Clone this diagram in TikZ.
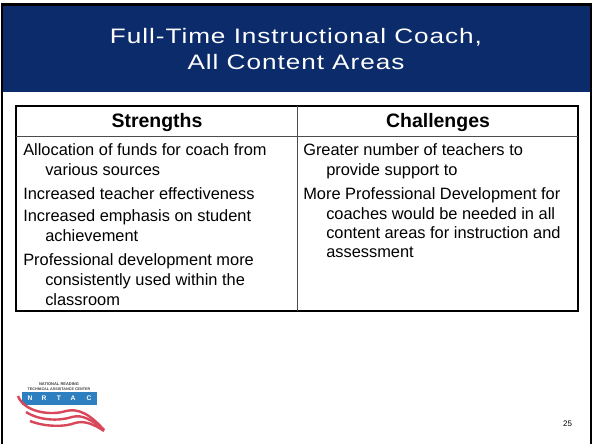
\documentclass[tikz,border=0pt]{standalone}
\usepackage{fontspec}
\setmainfont{Liberation Sans}
\newfontfamily\titlefont{Liberation Sans}[FakeStretch=1.25,LetterSpace=4.5]
\definecolor{navy}{HTML}{0B2B6B}
\definecolor{logoblue}{HTML}{2E7FC0}
\definecolor{logored}{HTML}{D8475A}
\tikzset{x=0.75pt,y=-0.75pt,
 head/.style={font=\fontsize{14.6}{16}\selectfont\bfseries,anchor=center,inner sep=0pt},
 body/.style={font=\fontsize{12.3}{14}\selectfont,anchor=base west,inner sep=0pt},
 titletext/.style={font=\titlefont\fontsize{15.7}{18}\selectfont,text=white,anchor=base,inner sep=0pt},
 logoletter/.style={font=\fontsize{5}{5}\selectfont\bfseries,text=white,inner sep=0pt},
 logosmall/.style={font=\fontsize{3}{3}\selectfont\bfseries,text=black!75,inner sep=0pt},
 stripe/.style={line width=1.8pt,logored}}
\begin{document}
\begin{tikzpicture}
\useasboundingbox (0,0) rectangle (592,444);
\fill[white] (0,0) rectangle (592,444);
\fill[navy] (3,6) rectangle (590,92);
\fill[black] (1,3) rectangle (592,6);
\fill[black] (1,3) rectangle (3.2,444);
\fill[black] (590,3) rectangle (592,444);
% table
\draw[line width=1.1pt] (16,106) rectangle (578,311);
\draw[line width=0.5pt,black!70] (297,106) -- (297,311);
\draw[line width=0.6pt,black!70] (16,136) -- (578,136);
\node[titletext] (t1) at (296,43) {Full-Time Instructional Coach,};
\node[titletext] (t2) at (296,69.5) {All Content Areas};
\node[head] (h1) at (157,123) {Strengths};
\node[head] (h2) at (438,123) {Challenges};
\node[body] (l1) at (23,155) {Allocation of funds for coach from};
\node[body] (l2) at (45,175) {various sources};
\node[body] (l3) at (23,199) {Increased teacher effectiveness};
\node[body] (l4) at (23,221.5) {Increased emphasis on student};
\node[body] (l5) at (45,241.5) {achievement};
\node[body] (l6) at (23,265.5) {Professional development more};
\node[body] (l7) at (45,285) {consistently used within the};
\node[body] (l8) at (45,305) {classroom};
\node[body] (r1) at (303,155) {Greater number of teachers to};
\node[body] (r2) at (326,175) {provide support to};
\node[body] (r3) at (303,199) {More Professional Development for};
\node[body] (r4) at (326,219) {coaches would be needed in all};
\node[body] (r5) at (326,238.5) {content areas for instruction and};
\node[body] (r6) at (326,257.5) {assessment};
\node[font=\fontsize{6}{6}\selectfont,inner sep=0pt] (pg) at (567.5,424) {25};
% logo
\node[logosmall] (lg1) at (59,384) {NATIONAL READING};
\node[logosmall,font=\fontsize{2.8}{3}\selectfont\bfseries] (lg2) at (59,389) {TECHNICAL ASSISTANCE CENTER};
\fill[logoblue] (22,392) rectangle (97,405);
\foreach \x/\l in {30/N,44/R,59/T,73/A,89/C}{\node[logoletter] at (\x,398.5) {\l};}
\draw[stripe] (18,396) .. controls (24,412) and (50,416) .. (66,411) .. controls (78,408) and (90,414) .. (104,430);
\draw[stripe] (26,412) .. controls (40,421) and (60,421) .. (72,417) .. controls (82,414) and (92,420) .. (104,430);
\draw[stripe] (30,421) .. controls (45,427) and (65,427) .. (75,423) .. controls (85,420) and (95,425) .. (104,431);
\end{tikzpicture}
\end{document}
